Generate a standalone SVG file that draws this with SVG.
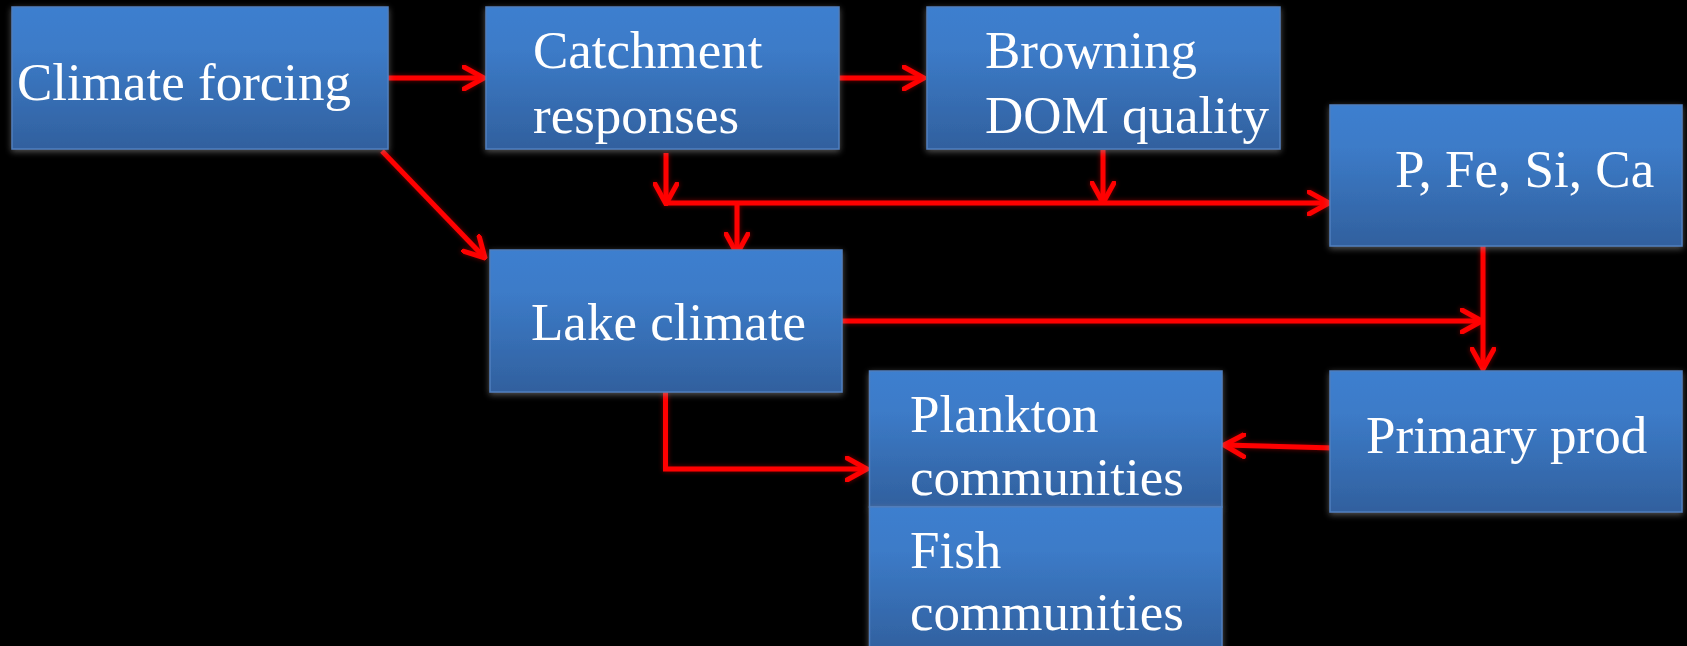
<svg xmlns="http://www.w3.org/2000/svg" width="1687" height="646" viewBox="0 0 1687 646">
<defs>
<linearGradient id="bg" x1="0" y1="0" x2="0" y2="1">
<stop offset="0" stop-color="#3e7fcf"/>
<stop offset="0.3" stop-color="#3c7bc8"/>
<stop offset="1" stop-color="#31609e"/>
</linearGradient>
<filter id="boxglow" x="-10%" y="-10%" width="120%" height="120%">
<feDropShadow dx="0" dy="2" stdDeviation="3" flood-color="#9a9a9a" flood-opacity="0.55"/>
</filter>
<filter id="lineglow" x="-10%" y="-10%" width="120%" height="120%" filterUnits="userSpaceOnUse">
<feDropShadow dx="0" dy="0" stdDeviation="2.5" flood-color="#a00000" flood-opacity="0.7"/>
</filter>
<marker id="arr" viewBox="0 0 24 26" refX="22" refY="13" markerWidth="24" markerHeight="26" markerUnits="userSpaceOnUse" orient="auto">
<path d="M2,2 L22,13 L2,24" fill="none" stroke="#ff0000" stroke-width="5" stroke-linecap="round" stroke-linejoin="miter"/>
</marker>
<style>
.box{fill:url(#bg);stroke:#4f7fbf;stroke-width:1.5;filter:url(#boxglow)}
.t{font-family:"Liberation Serif","Times New Roman",serif;font-size:53px;fill:#ffffff}
.c{fill:none;stroke:#ff0000;stroke-width:5}
</style>
</defs>
<rect x="0" y="0" width="1687" height="646" fill="#000000"/>

<g id="connectors" filter="url(#lineglow)">
<line class="c" x1="388" y1="78" x2="484" y2="78" marker-end="url(#arr)"/>
<line class="c" x1="839" y1="78" x2="924" y2="78" marker-end="url(#arr)"/>
<line class="c" x1="382" y1="151" x2="485" y2="258" marker-end="url(#arr)"/>
<line class="c" x1="666" y1="153" x2="666" y2="204" marker-end="url(#arr)"/>
<line class="c" x1="1103" y1="150" x2="1103" y2="203" marker-end="url(#arr)"/>
<line class="c" x1="664" y1="203" x2="1329" y2="203" marker-end="url(#arr)"/>
<line class="c" x1="737" y1="203" x2="737" y2="254" marker-end="url(#arr)"/>
<line class="c" x1="842" y1="321" x2="1482" y2="321" marker-end="url(#arr)"/>
<line class="c" x1="1483" y1="246" x2="1483" y2="369" marker-end="url(#arr)"/>
<polyline class="c" points="665.5,392 665.5,469 867,469" marker-end="url(#arr)"/>
<line class="c" x1="1334" y1="448" x2="1224" y2="445" marker-end="url(#arr)"/>
</g>

<g id="climate-forcing">
<rect class="box" x="12" y="7" width="376" height="142"/>
<text class="t" x="17" y="100">Climate forcing</text>
</g>
<g id="catchment">
<rect class="box" x="486" y="7" width="353" height="142"/>
<text class="t" x="533" y="68">Catchment</text>
<text class="t" x="533" y="133">responses</text>
</g>
<g id="browning">
<rect class="box" x="927" y="7" width="353" height="142"/>
<text class="t" x="985" y="68">Browning</text>
<text class="t" x="985" y="133">DOM quality</text>
</g>
<g id="nutrients">
<rect class="box" x="1330" y="105" width="352" height="141"/>
<text class="t" x="1395" y="187">P, Fe, Si, Ca</text>
</g>
<g id="lake-climate">
<rect class="box" x="490" y="250" width="352" height="142"/>
<text class="t" x="531" y="340">Lake climate</text>
</g>
<g id="plankton">
<rect class="box" x="869.5" y="371" width="352.5" height="136"/>
<text class="t" x="910" y="432">Plankton</text>
<text class="t" x="910" y="495">communities</text>
</g>
<g id="fish">
<rect class="box" x="869.5" y="507" width="352.5" height="145"/>
<text class="t" x="910" y="568">Fish</text>
<text class="t" x="910" y="630">communities</text>
</g>
<g id="primary-prod">
<rect class="box" x="1330" y="371" width="352" height="141"/>
<text class="t" x="1366" y="453">Primary prod</text>
</g>
</svg>
